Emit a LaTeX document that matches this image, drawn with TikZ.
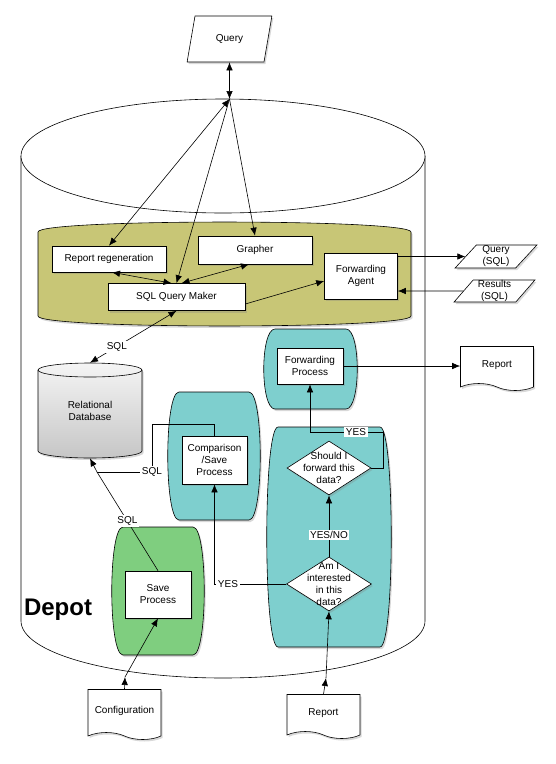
\documentclass[tikz,border=0pt]{standalone}
\usepackage{fontspec}
\setmainfont{Liberation Sans}
\usetikzlibrary{arrows.meta,shapes.geometric,shapes.symbols,shadows}

\definecolor{depotteal}{RGB}{126,207,206}
\definecolor{depotolive}{RGB}{200,198,118}
\definecolor{depotgreen}{RGB}{127,206,127}

% rounded barrel behind the process boxes
\newcommand{\procbarrel}[5]{%
  \draw[fill=#5,softshadow] (#1+11,#2) -- (#3-11,#2)
    .. controls (#3+4,#2) and (#3+4,#4) .. (#3-11,#4)
    -- (#1+11,#4) .. controls (#1-4,#4) and (#1-4,#2) .. (#1+11,#2) -- cycle;}

\begin{document}
\begin{tikzpicture}[x=1pt,y=-1pt,semithick,font=\fontsize{10}{12}\selectfont,
  softshadow/.style={drop shadow={opacity=0.3,shadow xshift=1.5pt,shadow yshift=-2pt}},
  procbox/.style={draw,fill=white,align=center,inner sep=2pt,softshadow},
  inbox/.style={trapezium,trapezium stretches=true,draw,fill=white,align=center,inner sep=0pt,softshadow},
  docbox/.style={tape,tape bend top=none,tape bend bottom=out and in,tape bend height=7pt,draw,fill=white,minimum width=73,softshadow},
  decide/.style={diamond,draw,fill=white,inner sep=0pt,minimum width=84,minimum height=54,softshadow},
  lbl/.style={fill=white,inner sep=1.5pt},
  arr/.style={-{Latex[length=8pt,width=6.5pt]}},
  biarr/.style={{Latex[length=8pt,width=6.5pt]}-{Latex[length=8pt,width=6.5pt]}}]
\useasboundingbox (0,0) rectangle (556,764);

% depot
\draw[fill=white] (21,156) -- (21,621) arc[start angle=180,end angle=0,x radius=202,y radius=57] -- (425,156);
\draw[fill=white] (223,156) ellipse[x radius=202,y radius=57];
\node[font=\fontsize{24}{28}\selectfont\bfseries] (depot) at (58,610) {Depot};

% containers
\draw[fill=depotolive,softshadow] (38,232) .. controls (38,218.7) and (411,218.7) .. (411,232)
  -- (411,316) .. controls (411,329.3) and (38,329.3) .. (38,316) -- cycle;
\procbarrel{264}{329}{357}{409}{depotteal}
\procbarrel{168}{392}{260}{520}{depotteal}
\procbarrel{267}{427}{391}{647}{depotteal}
\procbarrel{112}{527}{204}{655}{depotgreen}

% relational database
\draw[top color=gray!8,bottom color=gray!45,softshadow] (38,370) -- (38,451)
  arc[start angle=180,end angle=0,x radius=52,y radius=7] -- (142,370)
  arc[start angle=0,end angle=-180,x radius=52,y radius=7] -- cycle;
\draw (38,370) arc[start angle=180,end angle=0,x radius=52,y radius=7];
\node[align=center,minimum width=104,minimum height=95] (reldb) at (90,410.5) {Relational\\Database};

\node[inbox,trapezium left angle=71,trapezium right angle=109,minimum width=85,minimum height=46] (query) at (229.5,39) {Query};
\node[procbox,minimum width=114,minimum height=26] (repgen) at (109,259) {Report regeneration};
\node[procbox,minimum width=114,minimum height=28] (grapher) at (255,250) {Grapher};
\node[procbox,minimum width=137,minimum height=27] (sqlq) at (176.5,297) {SQL Query Maker};
\node[procbox,minimum width=73,minimum height=46] (fwdagent) at (361,276) {Forwarding\\Agent};
\node[inbox,trapezium left angle=55,trapezium right angle=125,minimum width=82,minimum height=23] (qsql) at (496,256.5) {Query\\(SQL)};
\node[inbox,trapezium left angle=55,trapezium right angle=125,minimum width=81,minimum height=22] (ressql) at (494.5,291) {Results\\(SQL)};
\node[procbox,minimum width=66,minimum height=36] (fwdproc) at (310,366) {Forwarding\\Process};
\node[docbox,minimum height=44] (repout) at (497,365) {Report};
\node[procbox,minimum width=65,minimum height=48] (cmpsave) at (214.5,460) {Comparison\\/Save\\Process};
\node[decide,label={[align=center]center:Should I\\forward this\\data?}] (shouldfwd) at (329,468) {};
\node[decide,minimum width=85,label={[align=center]center:Am I\\interested\\in this\\data?}] (interested) at (329,584) {};
\node[procbox,minimum width=66,minimum height=47] (savep) at (158,594.5) {Save\\Process};
\node[docbox,minimum height=50] (config) at (124.5,711) {Configuration};
\node[docbox,minimum height=44] (repin) at (323.5,713) {Report};

\coordinate (qIn) at (229.5,99);
\coordinate (cfgIn) at (125,677);
\coordinate (repIn) at (326,678);
\coordinate (sqlJoin) at (97,472);
\coordinate (yesTurn) at (383,432);

% query side
\draw[biarr] (query.south) -- (qIn);
\draw[biarr] (qIn) -- (repgen.north);
\draw[arr] (qIn) -- (sqlq.north);
\draw[arr] (qIn) -- (grapher.north);
\draw[biarr] ([xshift=3pt]repgen.south) -- ([xshift=-5pt]sqlq.north);
\draw[biarr] ([xshift=-6pt]grapher.south) -- ([xshift=5pt]sqlq.north);
\draw[arr] ([yshift=-7pt]sqlq.east) -- ([yshift=-5pt]fwdagent.west);
\draw[arr] (fwdagent.east |- qsql.center) -- (qsql);
\draw[arr] (ressql) -- (ressql -| fwdagent.east);
\draw[biarr] (reldb.north) -- node[lbl,pos=0.31] {SQL} (sqlq.south);

% data side
\draw (savep.north) -- node[lbl] {SQL} (sqlJoin);
\draw[arr] (sqlJoin) -- (reldb.south);
\draw (cmpsave.north) |- (152,424) -- (152,472) node[lbl] {SQL} -- (sqlJoin);
\draw[arr] (config.north) -- (cfgIn);
\draw[arr] (cfgIn) -- (savep.south);
\draw[arr] (repin.north) -- (repIn);
\draw[arr] (repIn) -- (interested.south);
\draw[arr] (interested.north) -- node[lbl,pos=0.35] {YES/NO} (shouldfwd.south);
\draw[arr] (interested.west) -- (214.5,584) -- (cmpsave.south);
\node[lbl] (yeslow) at (228,584) {YES};
\draw[arr] (shouldfwd.east) -| (yesTurn) -| (fwdproc.south);
\node[lbl] (yesup) at (356,432) {YES};
\draw[arr] (fwdproc.east) -- (fwdproc.east -| repout.west);
\end{tikzpicture}
\end{document}
